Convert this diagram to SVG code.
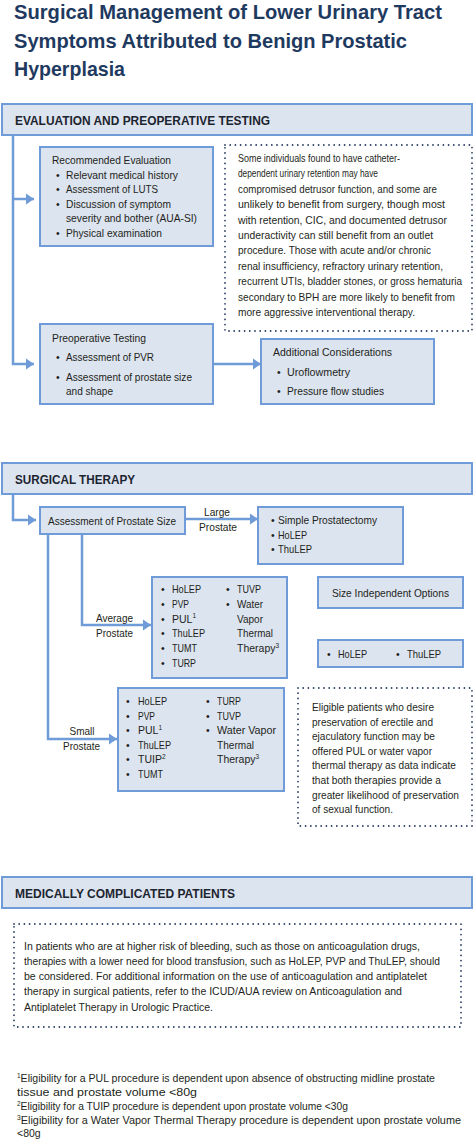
<svg xmlns="http://www.w3.org/2000/svg" width="474" height="1139" viewBox="0 0 474 1139">
<style>
.bg{fill:#ffffff}
.box{fill:#dce4ef;stroke:#6f9bd8;stroke-width:2}
.dot{fill:none;stroke:#2a3f63;stroke-width:1.8;stroke-linecap:round;stroke-dasharray:0 5.2}
.conn{fill:none;stroke:#6f9bd8;stroke-width:2.5}
.t{font-family:"Liberation Sans",Arial,sans-serif;font-size:10.5px;fill:#231f20}
.c{text-anchor:middle}
.h{font-family:"Liberation Sans",Arial,sans-serif;font-size:12.5px;font-weight:bold;fill:#1c2430}
.title{font-family:"Liberation Sans",Arial,sans-serif;font-size:21px;font-weight:bold;fill:#1f3a60}
</style>
<defs>
<marker id="arr" markerUnits="userSpaceOnUse" markerWidth="9" markerHeight="12" refX="8" refY="6" orient="auto">
<path d="M0,0.5 L8,6 L0,11.5 z" fill="#6f9bd8"/>
</marker>
</defs>
<rect class="bg" x="0" y="0" width="474" height="1139"/>

<g id="title">
<text class="title" x="14" y="19" textLength="428" lengthAdjust="spacingAndGlyphs">Surgical Management of Lower Urinary Tract</text>
<text class="title" x="14" y="47.5" textLength="393" lengthAdjust="spacingAndGlyphs">Symptoms Attributed to Benign Prostatic</text>
<text class="title" x="14" y="76" textLength="111" lengthAdjust="spacingAndGlyphs">Hyperplasia</text>
</g>

<g id="connectors">
<path class="conn" d="M13,135 V364 H34" marker-end="url(#arr)"/>
<path class="conn" d="M13,199 H34" marker-end="url(#arr)"/>
<path class="conn" d="M213,364 H261" marker-end="url(#arr)"/>
<path class="conn" d="M13,494 V520 H36" marker-end="url(#arr)"/>
<path class="conn" d="M185,519 H258" marker-end="url(#arr)"/>
<path class="conn" d="M82,534 V625 H151" marker-end="url(#arr)"/>
<path class="conn" d="M48,534 V739 H117" marker-end="url(#arr)"/>
<text class="t c" x="217" y="516" textLength="26" lengthAdjust="spacingAndGlyphs">Large</text>
<text class="t c" x="218" y="531" textLength="38" lengthAdjust="spacingAndGlyphs">Prostate</text>
<text class="t" x="96" y="621.5" textLength="37" lengthAdjust="spacingAndGlyphs">Average</text>
<text class="t" x="96" y="637" textLength="37" lengthAdjust="spacingAndGlyphs">Prostate</text>
<text class="t c" x="82" y="735" textLength="25" lengthAdjust="spacingAndGlyphs">Small</text>
<text class="t c" x="81.5" y="750" textLength="37" lengthAdjust="spacingAndGlyphs">Prostate</text>
</g>

<g id="header-evaluation">
<rect class="box" x="2" y="104" width="470" height="31"/>
<text class="h" x="15" y="125" textLength="255" lengthAdjust="spacingAndGlyphs">EVALUATION AND PREOPERATIVE TESTING</text>
</g>

<g id="recommended-evaluation">
<rect class="box" x="40" y="147" width="173" height="99"/>
<text class="t" x="52" y="164" textLength="119" lengthAdjust="spacingAndGlyphs">Recommended Evaluation</text>
<text class="t" x="56" y="178.5">•</text><text class="t" x="66" y="178.5" textLength="112" lengthAdjust="spacingAndGlyphs">Relevant medical history</text>
<text class="t" x="56" y="193">•</text><text class="t" x="66" y="193" textLength="92" lengthAdjust="spacingAndGlyphs">Assessment of LUTS</text>
<text class="t" x="56" y="207.5">•</text><text class="t" x="66" y="207.5" textLength="105" lengthAdjust="spacingAndGlyphs">Discussion of symptom</text>
<text class="t" x="66" y="222" textLength="131" lengthAdjust="spacingAndGlyphs">severity and bother (AUA-SI)</text>
<text class="t" x="56" y="236.5">•</text><text class="t" x="66" y="236.5" textLength="96" lengthAdjust="spacingAndGlyphs">Physical examination</text>
</g>

<g id="note-retention">
<rect class="dot" x="225" y="145" width="247" height="186"/>
<text class="t" x="238" y="162" textLength="162" lengthAdjust="spacingAndGlyphs">Some individuals found to have catheter-</text>
<text class="t" x="238" y="177.4" textLength="140" lengthAdjust="spacingAndGlyphs">dependent urinary retention may have</text>
<text class="t" x="238" y="192.8" textLength="199" lengthAdjust="spacingAndGlyphs">compromised detrusor function, and some are</text>
<text class="t" x="238" y="208.2" textLength="207" lengthAdjust="spacingAndGlyphs">unlikely to benefit from surgery, though most</text>
<text class="t" x="238" y="223.6" textLength="209" lengthAdjust="spacingAndGlyphs">with retention, CIC, and documented detrusor</text>
<text class="t" x="238" y="239" textLength="195" lengthAdjust="spacingAndGlyphs">underactivity can still benefit from an outlet</text>
<text class="t" x="238" y="254.4" textLength="193" lengthAdjust="spacingAndGlyphs">procedure. Those with acute and/or chronic</text>
<text class="t" x="238" y="269.8" textLength="205" lengthAdjust="spacingAndGlyphs">renal insufficiency, refractory urinary retention,</text>
<text class="t" x="238" y="285.2" textLength="224" lengthAdjust="spacingAndGlyphs">recurrent UTIs, bladder stones, or gross hematuria</text>
<text class="t" x="238" y="300.6" textLength="217" lengthAdjust="spacingAndGlyphs">secondary to BPH are more likely to benefit from</text>
<text class="t" x="238" y="316" textLength="177" lengthAdjust="spacingAndGlyphs">more aggressive interventional therapy.</text>
</g>

<g id="preoperative-testing">
<rect class="box" x="40" y="324" width="173" height="80"/>
<text class="t" x="52" y="342" textLength="94" lengthAdjust="spacingAndGlyphs">Preoperative Testing</text>
<text class="t" x="56" y="361">•</text><text class="t" x="66" y="361" textLength="88" lengthAdjust="spacingAndGlyphs">Assessment of PVR</text>
<text class="t" x="56" y="380.5">•</text><text class="t" x="66" y="380.5" textLength="126" lengthAdjust="spacingAndGlyphs">Assessment of prostate size</text>
<text class="t" x="66" y="395" textLength="47" lengthAdjust="spacingAndGlyphs">and shape</text>
</g>

<g id="additional-considerations">
<rect class="box" x="261" y="339" width="173" height="65"/>
<text class="t" x="273" y="356" textLength="119" lengthAdjust="spacingAndGlyphs">Additional Considerations</text>
<text class="t" x="277" y="375.5">•</text><text class="t" x="287" y="375.5" textLength="63" lengthAdjust="spacingAndGlyphs">Uroflowmetry</text>
<text class="t" x="277" y="394.5">•</text><text class="t" x="287" y="394.5" textLength="97" lengthAdjust="spacingAndGlyphs">Pressure flow studies</text>
</g>

<g id="header-surgical">
<rect class="box" x="2" y="463" width="470" height="31"/>
<text class="h" x="15" y="483.5" textLength="120" lengthAdjust="spacingAndGlyphs">SURGICAL THERAPY</text>
</g>

<g id="assessment-size">
<rect class="box" x="40" y="507" width="145" height="27"/>
<text class="t" x="48" y="524.5" textLength="128" lengthAdjust="spacingAndGlyphs">Assessment of Prostate Size</text>
</g>

<g id="large-prostate">
<rect class="box" x="258" y="507" width="145" height="57"/>
<text class="t" x="271" y="524">•</text><text class="t" x="278" y="524" textLength="99" lengthAdjust="spacingAndGlyphs">Simple Prostatectomy</text>
<text class="t" x="271" y="538.5">•</text><text class="t" x="278" y="538.5" textLength="29" lengthAdjust="spacingAndGlyphs">HoLEP</text>
<text class="t" x="271" y="553">•</text><text class="t" x="278" y="553" textLength="34" lengthAdjust="spacingAndGlyphs">ThuLEP</text>
</g>

<g id="average-prostate">
<rect class="box" x="152" y="577" width="135" height="101"/>
<text class="t" x="161" y="593">•</text><text class="t" x="172" y="593" textLength="29" lengthAdjust="spacingAndGlyphs">HoLEP</text>
<text class="t" x="161" y="607.8">•</text><text class="t" x="172" y="607.8" textLength="17" lengthAdjust="spacingAndGlyphs">PVP</text>
<text class="t" x="161" y="622.6">•</text><text class="t" x="172" y="622.6">PUL<tspan font-size="6.5" dy="-4.5">1</tspan></text>
<text class="t" x="161" y="637.4">•</text><text class="t" x="172" y="637.4" textLength="33" lengthAdjust="spacingAndGlyphs">ThuLEP</text>
<text class="t" x="161" y="652.2">•</text><text class="t" x="172" y="652.2" textLength="25" lengthAdjust="spacingAndGlyphs">TUMT</text>
<text class="t" x="161" y="667">•</text><text class="t" x="172" y="667" textLength="24" lengthAdjust="spacingAndGlyphs">TURP</text>
<text class="t" x="226" y="593">•</text><text class="t" x="237" y="593" textLength="24" lengthAdjust="spacingAndGlyphs">TUVP</text>
<text class="t" x="226" y="607.8">•</text><text class="t" x="237" y="607.8" textLength="26" lengthAdjust="spacingAndGlyphs">Water</text>
<text class="t" x="237" y="622.6" textLength="26" lengthAdjust="spacingAndGlyphs">Vapor</text>
<text class="t" x="237" y="637.4" textLength="36" lengthAdjust="spacingAndGlyphs">Thermal</text>
<text class="t" x="237" y="652.2">Therapy<tspan font-size="6.5" dy="-4.5">3</tspan></text>
</g>

<g id="size-independent">
<rect class="box" x="318" y="577" width="145" height="31"/>
<text class="t c" x="390.5" y="596.5" textLength="117" lengthAdjust="spacingAndGlyphs">Size Independent Options</text>
</g>

<g id="size-independent-options">
<rect class="box" x="318" y="640" width="145" height="27"/>
<text class="t" x="327" y="657.5">•</text><text class="t" x="338" y="657.5" textLength="29" lengthAdjust="spacingAndGlyphs">HoLEP</text>
<text class="t" x="396" y="657.5">•</text><text class="t" x="407" y="657.5" textLength="34" lengthAdjust="spacingAndGlyphs">ThuLEP</text>
</g>

<g id="small-prostate">
<rect class="box" x="118" y="688" width="166" height="103"/>
<text class="t" x="126" y="705">•</text><text class="t" x="138" y="705" textLength="29" lengthAdjust="spacingAndGlyphs">HoLEP</text>
<text class="t" x="126" y="719.6">•</text><text class="t" x="138" y="719.6" textLength="17" lengthAdjust="spacingAndGlyphs">PVP</text>
<text class="t" x="126" y="734.2">•</text><text class="t" x="138" y="734.2">PUL<tspan font-size="6.5" dy="-4.5">1</tspan></text>
<text class="t" x="126" y="748.8">•</text><text class="t" x="138" y="748.8" textLength="33" lengthAdjust="spacingAndGlyphs">ThuLEP</text>
<text class="t" x="126" y="763.4">•</text><text class="t" x="138" y="763.4">TUIP<tspan font-size="6.5" dy="-4.5">2</tspan></text>
<text class="t" x="126" y="778">•</text><text class="t" x="138" y="778" textLength="25" lengthAdjust="spacingAndGlyphs">TUMT</text>
<text class="t" x="206" y="705">•</text><text class="t" x="217" y="705" textLength="24" lengthAdjust="spacingAndGlyphs">TURP</text>
<text class="t" x="206" y="719.6">•</text><text class="t" x="217" y="719.6" textLength="24" lengthAdjust="spacingAndGlyphs">TUVP</text>
<text class="t" x="206" y="734.2">•</text><text class="t" x="217" y="734.2" textLength="59" lengthAdjust="spacingAndGlyphs">Water Vapor</text>
<text class="t" x="217" y="748.8" textLength="37" lengthAdjust="spacingAndGlyphs">Thermal</text>
<text class="t" x="217" y="763.4">Therapy<tspan font-size="6.5" dy="-4.5">3</tspan></text>
</g>

<g id="note-sexual-function">
<rect class="dot" x="298" y="688" width="174" height="138"/>
<text class="t" x="312" y="711" textLength="122" lengthAdjust="spacingAndGlyphs">Eligible patients who desire</text>
<text class="t" x="312" y="725.6" textLength="121" lengthAdjust="spacingAndGlyphs">preservation of erectile and</text>
<text class="t" x="312" y="740.2" textLength="123" lengthAdjust="spacingAndGlyphs">ejaculatory function may be</text>
<text class="t" x="312" y="754.8" textLength="120" lengthAdjust="spacingAndGlyphs">offered PUL or water vapor</text>
<text class="t" x="312" y="769.4" textLength="144" lengthAdjust="spacingAndGlyphs">thermal therapy as data indicate</text>
<text class="t" x="312" y="784" textLength="129" lengthAdjust="spacingAndGlyphs">that both therapies provide a</text>
<text class="t" x="312" y="798.6" textLength="147" lengthAdjust="spacingAndGlyphs">greater likelihood of preservation</text>
<text class="t" x="312" y="813.2" textLength="81" lengthAdjust="spacingAndGlyphs">of sexual function.</text>
</g>

<g id="header-medical">
<rect class="box" x="2" y="877" width="470" height="31"/>
<text class="h" x="15" y="898" textLength="220" lengthAdjust="spacingAndGlyphs">MEDICALLY COMPLICATED PATIENTS</text>
</g>

<g id="note-bleeding">
<rect class="dot" x="14" y="924" width="447" height="103"/>
<text class="t" x="24" y="950" textLength="396" lengthAdjust="spacingAndGlyphs">In patients who are at higher risk of bleeding, such as those on anticoagulation drugs,</text>
<text class="t" x="24" y="965" textLength="416" lengthAdjust="spacingAndGlyphs">therapies with a lower need for blood transfusion, such as HoLEP, PVP and ThuLEP, should</text>
<text class="t" x="24" y="980" textLength="403" lengthAdjust="spacingAndGlyphs">be considered. For additional information on the use of anticoagulation and antiplatelet</text>
<text class="t" x="24" y="995" textLength="378" lengthAdjust="spacingAndGlyphs">therapy in surgical patients, refer to the ICUD/AUA review on Anticoagulation and</text>
<text class="t" x="24" y="1010.5" textLength="189" lengthAdjust="spacingAndGlyphs">Antiplatelet Therapy in Urologic Practice.</text>
</g>

<g id="footnotes">
<text class="t" x="17" y="1082" textLength="418" lengthAdjust="spacingAndGlyphs"><tspan font-size="6.5" dy="-4.5">1</tspan><tspan dy="4.5">Eligibility for a PUL procedure is dependent upon absence of obstructing midline prostate</tspan></text>
<text class="t" x="17" y="1096" textLength="180" lengthAdjust="spacingAndGlyphs">tissue and prostate volume &lt;80g</text>
<text class="t" x="17" y="1110" textLength="331" lengthAdjust="spacingAndGlyphs"><tspan font-size="6.5" dy="-4.5">2</tspan><tspan dy="4.5">Eligibility for a TUIP procedure is dependent upon prostate volume &lt;30g</tspan></text>
<text class="t" x="17" y="1124" textLength="444" lengthAdjust="spacingAndGlyphs"><tspan font-size="6.5" dy="-4.5">3</tspan><tspan dy="4.5">Eligibility for a Water Vapor Thermal Therapy procedure is dependent upon prostate volume</tspan></text>
<text class="t" x="17" y="1137">&lt;80g</text>
</g>
</svg>
